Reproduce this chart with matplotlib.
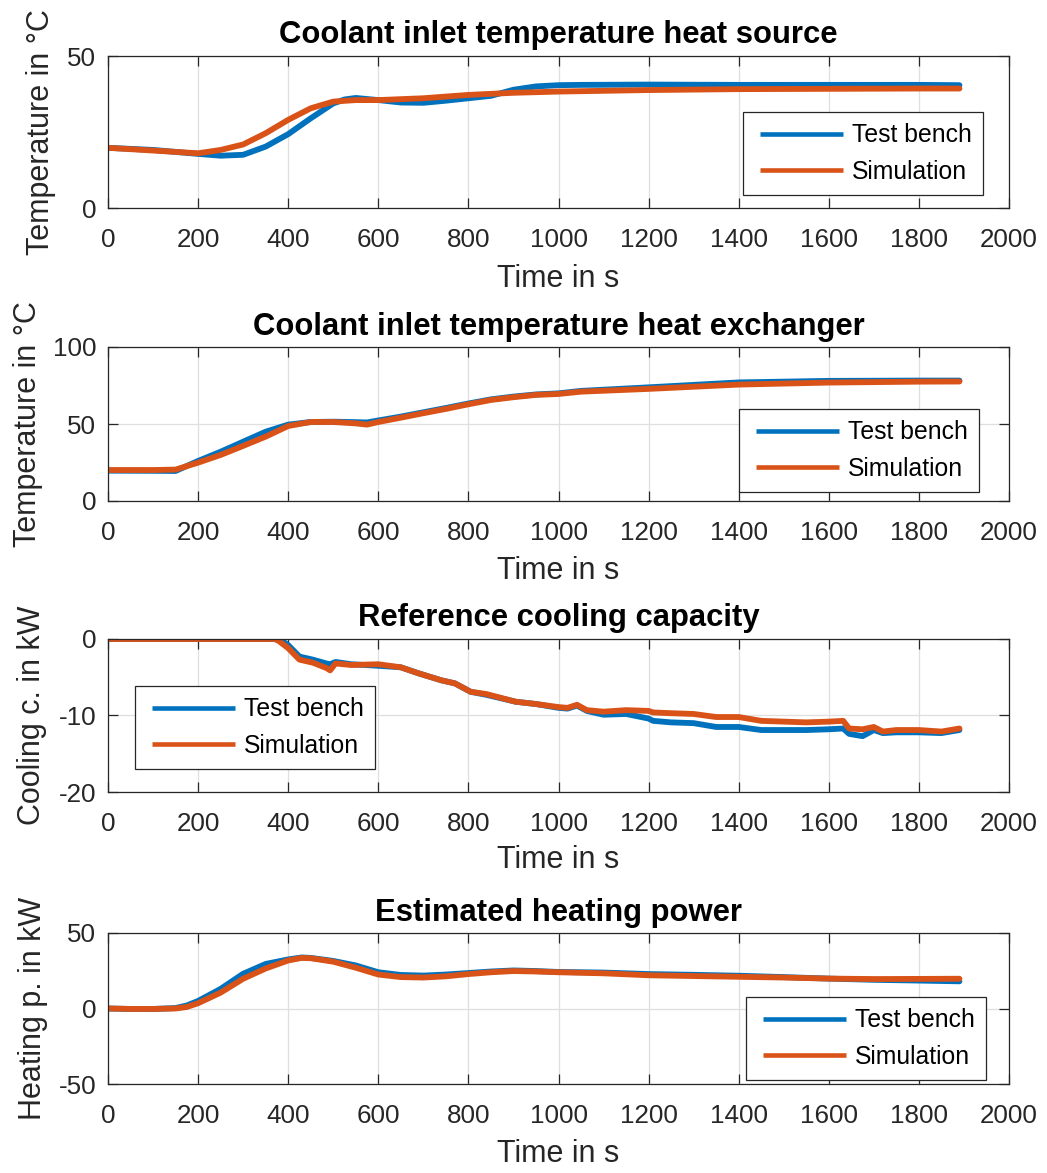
import matplotlib
matplotlib.use("Agg")
import matplotlib.pyplot as plt
from matplotlib.legend_handler import HandlerLine2D

# ---------------------------------------------------------------- data
# Coolant inlet temperature at the heat source (degC)
t_src = [0, 100, 200, 250, 300, 350, 400, 450, 500, 525, 550, 600, 650, 700,
         750, 800, 850, 900, 950, 1000, 1050, 1200, 1400, 1600, 1800, 1890]
src_bench = [19.8, 19.1, 17.8, 17.2, 17.5, 20.2, 24.3, 29.5, 34.4, 35.7, 36.2,
             35.5, 34.7, 34.6, 35.3, 36.1, 36.9, 38.9, 40.0, 40.4, 40.5, 40.6,
             40.5, 40.5, 40.5, 40.4]
t_src_sim = [0, 100, 200, 250, 300, 350, 400, 450, 500, 550, 600, 700, 800,
             900, 1000, 1200, 1400, 1600, 1800, 1890]
src_sim = [19.8, 18.9, 18.0, 19.1, 20.9, 24.6, 29.0, 32.8, 35.0, 35.5, 35.5,
           36.1, 37.2, 37.9, 38.3, 38.8, 39.1, 39.2, 39.3, 39.3]

# Coolant inlet temperature at the heat exchanger (degC)
t_hx = [0, 100, 150, 200, 250, 300, 350, 400, 450, 500, 550, 575, 600, 650,
        700, 750, 800, 850, 900, 950, 1000, 1050, 1200, 1400, 1600, 1800, 1890]
hx_bench = [19.7, 19.6, 19.5, 26.0, 32.0, 38.5, 45.0, 49.6, 51.3, 51.5, 51.2,
            51.0, 52.3, 54.8, 57.6, 60.4, 63.3, 66.0, 67.8, 69.2, 69.9, 71.5,
            73.8, 77.0, 78.0, 78.2, 78.2]
hx_sim = [20.1, 20.1, 20.4, 24.9, 29.9, 35.8, 41.8, 48.7, 51.3, 51.3, 50.4,
          49.6, 51.3, 54.1, 57.0, 59.8, 62.8, 65.6, 67.4, 68.9, 69.5, 71.0,
          72.8, 75.6, 76.9, 77.5, 77.6]

# Reference cooling capacity (kW)
t_cool = [0, 370, 380, 400, 425, 455, 485, 493, 505, 540, 600, 650, 690, 740,
          770, 805, 840, 905, 950, 1000, 1020, 1041, 1063, 1100, 1150, 1200,
          1210, 1250, 1300, 1350, 1400, 1450, 1500, 1550, 1600, 1632, 1645,
          1675, 1700, 1720, 1750, 1800, 1850, 1890]
cool_bench = [0.0, 0.0, 0.0, -0.8, -2.3, -2.7, -3.2, -3.3, -3.0, -3.3, -3.5,
              -3.7, -4.5, -5.4, -5.8, -6.9, -7.3, -8.2, -8.5, -9.0, -9.1, -8.7,
              -9.4, -9.9, -9.8, -10.4, -10.7, -10.9, -11.0, -11.5, -11.5, -11.9,
              -11.9, -11.9, -11.8, -11.7, -12.4, -12.7, -11.9, -12.3, -12.2,
              -12.2, -12.3, -11.9]
cool_sim = [0.0, 0.0, -0.3, -1.2, -2.7, -3.1, -3.8, -4.1, -3.2, -3.4, -3.3,
            -3.7, -4.5, -5.4, -5.8, -6.9, -7.2, -8.2, -8.5, -8.9, -9.0, -8.6,
            -9.3, -9.5, -9.3, -9.4, -9.6, -9.7, -9.8, -10.2, -10.2, -10.7,
            -10.8, -10.9, -10.8, -10.7, -11.7, -11.8, -11.5, -12.1, -11.9,
            -11.9, -12.1, -11.7]

# Estimated heating power (kW)
t_heat = [0, 50, 100, 150, 175, 200, 250, 300, 350, 400, 430, 450, 500, 550,
          600, 650, 700, 750, 800, 850, 900, 950, 1000, 1100, 1200, 1300, 1400,
          1500, 1600, 1700, 1800, 1890]
heat_bench = [0.0, -0.3, -0.3, 0.3, 2.0, 5.0, 13.0, 23.0, 29.5, 32.5, 33.8,
              33.5, 31.5, 28.5, 24.0, 22.2, 21.8, 22.5, 23.5, 24.5, 25.2, 24.8,
              24.2, 23.8, 22.8, 22.3, 21.7, 20.8, 19.8, 19.0, 18.5, 18.0]
heat_sim = [0.0, -0.3, -0.3, 0.0, 1.0, 3.5, 10.5, 19.7, 26.5, 31.8, 33.5,
            33.3, 31.0, 27.0, 22.5, 20.8, 20.5, 21.3, 22.8, 24.0, 24.8, 24.5,
            24.0, 23.3, 22.0, 21.5, 21.0, 20.5, 19.8, 19.5, 19.6, 19.7]

titles = ["Coolant inlet temperature heat source",
          "Coolant inlet temperature heat exchanger",
          "Reference cooling capacity",
          "Estimated heating power"]
ylabels = ["Temperature in °C", "Temperature in °C",
           "Cooling c. in kW", "Heating p. in kW"]
xlabel = "Time in s"
series_names = ["Test bench", "Simulation"]
ylims = [(0, 50), (0, 100), (-20, 0), (-50, 50)]
yticks = [[0, 50], [0, 50, 100], [-20, -10, 0], [-50, 0, 50]]
xticks = list(range(0, 2001, 200))

# ---------------------------------------------------------------- style
plt.rcParams["font.family"] = ["Liberation Sans", "DejaVu Sans"]
plt.rcParams["axes.unicode_minus"] = False
INK = "#262626"
BLUE = "#0072BD"
ORANGE = "#D95319"
LEG_FS = 17.8


class InsetLine(HandlerLine2D):
    """Legend line that starts a little in from the left edge of its box."""

    def get_xdata(self, legend, xdescent, ydescent, width, height, fontsize):
        inset = 0.23 * fontsize
        xdata = [-xdescent + inset, -xdescent + width]
        return xdata, xdata


W, H = 1047, 1173
fig = plt.figure(figsize=(W / 100, H / 100), dpi=100)

# axes boxes in pixels: (top, bottom)
rows = [(56, 208), (347, 501), (639, 792), (933, 1084)]
left_px, right_px = 108, 1009
ylabel_x_px = [56, 43, 47, 48]
xlabel_top_px = [264, 556, 845, 1139]
legend_pos_px = [(743, 112), (739, 409), (135, 686), (746, 997)]

series = [
    ((t_src, src_bench), (t_src_sim, src_sim)),
    ((t_hx, hx_bench), (t_hx, hx_sim)),
    ((t_cool, cool_bench), (t_cool, cool_sim)),
    ((t_heat, heat_bench), (t_heat, heat_sim)),
]

for i, (top, bot) in enumerate(rows):
    ax = fig.add_axes([left_px / W, 1 - bot / H,
                       (right_px - left_px) / W, (bot - top) / H])
    (tb, yb), (ts, ys) = series[i]
    lb, = ax.plot(tb, yb, color=BLUE, lw=4.2, solid_capstyle="round",
                  solid_joinstyle="round", label=series_names[0])
    ls, = ax.plot(ts, ys, color=ORANGE, lw=4.2, solid_capstyle="round",
                  solid_joinstyle="round", label=series_names[1])

    ax.set_xlim(0, 2000)
    ax.set_ylim(*ylims[i])
    ax.set_xticks(xticks)
    ax.set_yticks(yticks[i])
    ax.grid(True, color="#dfdfdf", lw=0.9)
    ax.set_axisbelow(True)
    for s in ax.spines.values():
        s.set_color(INK)
        s.set_linewidth(0.9)
    ax.tick_params(axis="both", direction="in", length=7, width=0.9,
                   color=INK, labelcolor=INK, labelsize=18.7,
                   top=True, right=True)
    ax.tick_params(axis="x", pad=14.5)
    ax.tick_params(axis="y", pad=8.5)

    ax.set_title(titles[i], fontsize=22.3, fontweight="bold", color="black",
                 pad=9)
    ax.set_ylabel(ylabels[i], fontsize=22, color=INK)
    ax.yaxis.set_label_coords(ylabel_x_px[i] / W, 1 - (top + bot) / 2 / H,
                              transform=fig.transFigure)
    ax.set_xlabel(xlabel, fontsize=22, color=INK)
    ax.xaxis.set_label_coords((left_px + right_px) / 2 / W,
                              1 - xlabel_top_px[i] / H,
                              transform=fig.transFigure)

    lx, ly = legend_pos_px[i]
    leg = ax.legend(handles=[lb, ls], loc="upper left",
                    bbox_to_anchor=(lx / W, 1 - ly / H),
                    bbox_transform=fig.transFigure, borderaxespad=0,
                    fontsize=LEG_FS, frameon=True, fancybox=False,
                    edgecolor=INK, framealpha=1, handlelength=3.59,
                    handletextpad=0.36, labelspacing=0.5, borderpad=0.46,
                    handler_map={lb: InsetLine(), ls: InsetLine()})
    leg.get_frame().set_linewidth(0.9)
    for h in leg.get_lines():
        h.set_linewidth(3.3)
        h.set_solid_capstyle("butt")

fig.savefig("out.png", dpi=100)
